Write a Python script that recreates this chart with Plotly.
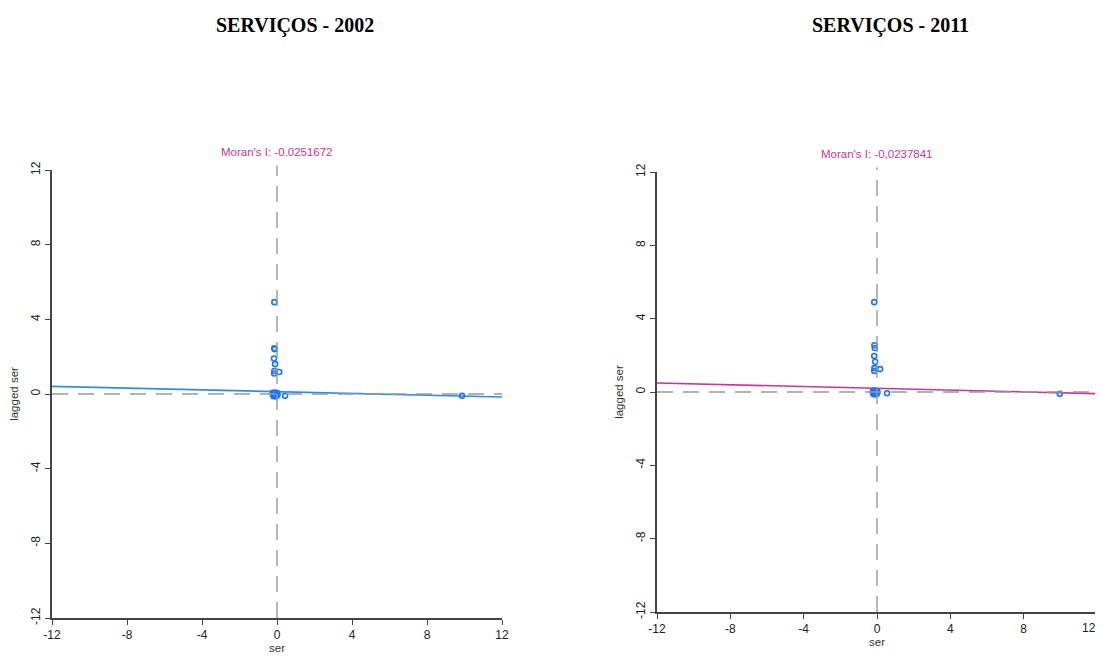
import plotly.graph_objects as go

# ---------------- data ----------------
titles = ["SERVIÇOS - 2002", "SERVIÇOS - 2011"]
moran_labels = ["Moran's I: -0.0251672", "Moran's I: -0,0237841"]
tick_vals = [-12, -8, -4, 0, 4, 8, 12]
tick_text = ["-12", "-8", "-4", "0", "4", "8", "12"]

# 2002 scatter (ser, lagged ser)
ser_2002 = [-0.14, -0.15, -0.12, -0.16, -0.10, -0.14, 0.12, -0.15,
            -0.22, -0.15, -0.08, -0.02, 0.02, -0.22, -0.12, -0.05, 0.02, -0.18,
            -0.10, -0.03, -0.20, -0.08, 0.43, 9.87]
lag_2002 = [4.92, 2.45, 2.40, 1.90, 1.60, 1.23, 1.18, 1.10,
            0.06, 0.06, 0.06, 0.06, 0.03, -0.04, -0.04, -0.04, -0.04, -0.12,
            -0.12, -0.12, 0.00, 0.00, -0.10, -0.10]
fit_x_2002 = [-12, 12]
fit_y_2002 = [0.41, -0.16]

# 2011 scatter
ser_2011 = [-0.15, -0.14, -0.12, -0.15, -0.10, -0.14, 0.17, -0.15,
            -0.22, -0.15, -0.08, -0.02, 0.02, -0.22, -0.12, -0.05, 0.02, -0.18,
            -0.10, -0.03, -0.20, -0.08, 0.55, 9.97]
lag_2011 = [4.90, 2.55, 2.40, 1.96, 1.65, 1.30, 1.25, 1.15,
            0.06, 0.06, 0.06, 0.06, 0.03, -0.04, -0.04, -0.04, -0.04, -0.12,
            -0.12, -0.12, 0.00, 0.00, -0.07, -0.10]
fit_x_2011 = [-12, 12]
fit_y_2011 = [0.49, -0.09]

# ---------------- figure ----------------
PT_COLOR = "#1a75ff"
LINE_COLORS = ["#2b8cf0", "#cc3399"]
AX_COLOR = "#444444"
FONT = "Liberation Sans, Arial, sans-serif"

# the page body has an 8px margin; figure fills the rest of the window
OFF = 8
W, H = 1103 - OFF, 656 - OFF


def px(xp):
    return (xp - OFF) / W


def py(yp):
    return 1 - (yp - OFF) / H


fig = go.Figure()

panels = [
    (ser_2002, lag_2002, fit_x_2002, fit_y_2002, "x", "y"),
    (ser_2011, lag_2011, fit_x_2011, fit_y_2011, "x2", "y2"),
]
for i, (sx, sy, fx, fy, xa, ya) in enumerate(panels):
    fig.add_trace(go.Scatter(x=fx, y=fy, mode="lines", xaxis=xa, yaxis=ya,
                             line=dict(color=LINE_COLORS[i], width=1.6),
                             showlegend=False, hoverinfo="skip"))
    fig.add_trace(go.Scatter(x=sx, y=sy, mode="markers", xaxis=xa, yaxis=ya,
                             marker=dict(symbol="circle-open", size=5,
                                         color=PT_COLOR, line=dict(width=1.6)),
                             showlegend=False))

domains = [
    dict(x=[px(52), px(502)], y=[py(618), py(170)]),
    dict(x=[px(657), px(1097)], y=[py(612), py(172)]),
]

TICK_FONT = dict(family=FONT, size=12, color="#222222")
axis_common = dict(
    range=[-12, 12], tickvals=tick_vals, ticktext=tick_text, showgrid=False,
    zeroline=False, showline=True, linecolor=AX_COLOR, linewidth=1.5,
    ticks="outside", ticklen=5, tickcolor=AX_COLOR, tickwidth=1.2,
    automargin=False, tickfont=TICK_FONT,
)

for i, suf in enumerate(["", "2"]):
    d = domains[i]
    xax = dict(axis_common, domain=d["x"], anchor="y" + suf,
               title=dict(text="ser", font=dict(family=FONT, size=11.5, color="#333333"),
                          standoff=2))
    yax = dict(axis_common, domain=d["y"], anchor="x" + suf, tickangle=-90,
               title=dict(text="lagged ser", font=dict(family=FONT, size=11.5, color="#333333"),
                          standoff=8))
    fig.layout["xaxis" + suf] = xax
    fig.layout["yaxis" + suf] = yax

    xr = "x" + suf
    yr = "y" + suf
    # dashed reference lines
    fig.add_shape(type="line", xref=xr, yref=yr + " domain", x0=0, x1=0, y0=0, y1=1.01,
                  line=dict(color="#999999", width=1.4, dash="16px,10px"))
    fig.add_shape(type="line", xref=xr + " domain", yref=yr, x0=0, x1=1, y0=0, y1=0,
                  line=dict(color="#999999", width=1.4, dash="16px,10px"))
    # Moran's I label
    fig.add_annotation(xref=xr, yref=yr + " domain", x=0, y=1.022, yanchor="bottom",
                       xanchor="center", text=moran_labels[i], showarrow=False,
                       font=dict(family=FONT, size=11.5, color="#cc3399"))

# the last tick label of the right panel sits on the window edge:
# draw it right-aligned to its tick so that it stays visible
fig.layout.xaxis2.ticktext = tick_text[:-1] + [""]
fig.add_annotation(xref="x2", yref="y2 domain", x=tick_vals[-1], y=0, yshift=-7,
                   xanchor="right", yanchor="top", xshift=1, showarrow=False,
                   text=tick_text[-1], font=TICK_FONT)

# titles
for i, cx in enumerate([295, 890]):
    fig.add_annotation(xref="paper", yref="paper", x=px(cx), y=py(25),
                       xanchor="center", yanchor="middle",
                       text="<b>" + titles[i] + "</b>", showarrow=False,
                       font=dict(family="Liberation Serif, Times New Roman, serif",
                                 size=20, color="black"))

fig.update_layout(
    width=W, height=H, margin=dict(l=0, r=0, t=0, b=0),
    paper_bgcolor="white", plot_bgcolor="white",
)

fig.write_html("out.html")
